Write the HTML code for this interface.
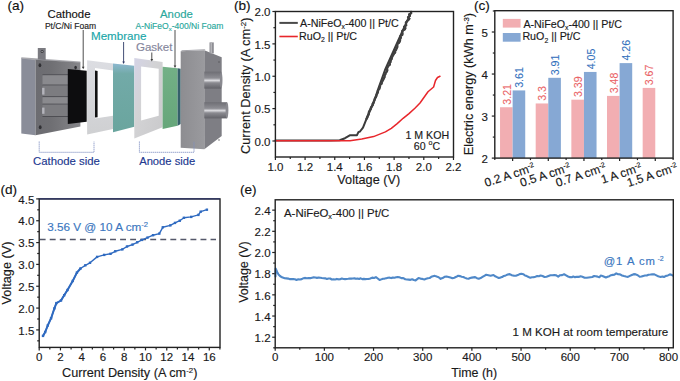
<!DOCTYPE html>
<html><head><meta charset="utf-8"><style>
html,body{margin:0;padding:0;background:#fff;}
svg{display:block;font-family:"Liberation Sans", sans-serif;}
</style></head><body>
<svg width="680" height="381" viewBox="0 0 680 381">
<defs>
<linearGradient id="lp" x1="0" y1="0" x2="1" y2="0"><stop offset="0" stop-color="#6c6c71"/><stop offset="0.35" stop-color="#6f6f73"/><stop offset="1" stop-color="#86868a"/></linearGradient>
<linearGradient id="rpf" x1="0" y1="0" x2="1" y2="0"><stop offset="0" stop-color="#8d8d91"/><stop offset="1" stop-color="#9a9a9e"/></linearGradient>
<linearGradient id="cyl" x1="0" y1="0" x2="0" y2="1"><stop offset="0" stop-color="#6e6e74"/><stop offset="0.38" stop-color="#8e8e94"/><stop offset="0.52" stop-color="#dcdce0"/><stop offset="0.66" stop-color="#8a8a90"/><stop offset="1" stop-color="#626268"/></linearGradient>
<linearGradient id="mem" x1="0" y1="0" x2="0" y2="1"><stop offset="0" stop-color="#8db8d0"/><stop offset="0.15" stop-color="#72aaa8"/><stop offset="1" stop-color="#6aa59e"/></linearGradient>
<linearGradient id="grn" x1="0" y1="0" x2="0" y2="1"><stop offset="0" stop-color="#73b086"/><stop offset="1" stop-color="#66a67a"/></linearGradient>
<linearGradient id="fr1" x1="0" y1="0" x2="0" y2="1"><stop offset="0" stop-color="#dcdde2"/><stop offset="1" stop-color="#cfd0d2"/></linearGradient>
<linearGradient id="fr2" x1="0" y1="0" x2="1" y2="1"><stop offset="0" stop-color="#d4d3e6"/><stop offset="0.4" stop-color="#d3d3d5"/><stop offset="1" stop-color="#c9c9cb"/></linearGradient>
</defs>
<rect width="680" height="381" fill="#fff"/>
<polygon points="21.30,58.10 35.50,59.50 35.50,135.20 21.30,133.60" fill="#8a8d99" /><polygon points="21.30,57.20 80.40,61.50 80.40,63.00 35.50,60.20 21.30,58.60" fill="#a9a9ae" /><polygon points="37.80,48.00 45.70,48.00 45.70,60.00 37.80,59.50" fill="#7a7a80" /><circle cx="42.1" cy="51.6" r="1.5" fill="#3a3a3e"/><circle cx="42.1" cy="51.6" r="0.7" fill="#b8b8bc"/><polygon points="35.50,59.80 80.40,62.50 80.40,126.50 35.50,135.20" fill="url(#lp)" /><ellipse cx="39.9" cy="65.2" rx="1.4" ry="2" fill="#303034"/><ellipse cx="75.6" cy="67.6" rx="1.3" ry="1.8" fill="#303034"/><ellipse cx="40.2" cy="127.3" rx="1.4" ry="2" fill="#303034"/><rect x="42.5" y="74.3" width="25.5" height="1.0" fill="#4e4e53"/><rect x="42.5" y="75.3" width="25.5" height="9.3" fill="#8a8a8e"/><rect x="42.5" y="84.6" width="25.5" height="1.0" fill="#55555a"/><rect x="42.5" y="85.6" width="25.5" height="10.6" fill="#7c7c80"/><rect x="42.5" y="96.2" width="25.5" height="1.0" fill="#4e4e53"/><rect x="42.5" y="97.2" width="25.5" height="6.5" fill="#8a8a8e"/><rect x="42.5" y="103.7" width="25.5" height="1.0" fill="#55555a"/><rect x="42.5" y="104.7" width="25.5" height="11.3" fill="#7c7c80"/><rect x="42.5" y="116.0" width="25.5" height="1.0" fill="#4e4e53"/><rect x="42.1" y="87.8" width="2.4" height="6.8" fill="#b4b4bb"/><rect x="42.1" y="107.6" width="2.4" height="6.2" fill="#b4b4bb"/><polygon points="67.80,69.10 86.70,70.70 86.70,121.80 67.80,124.10" fill="#0d0d0f" /><polygon points="87.10,60.20 113.00,63.40 113.00,129.10 87.10,134.60" fill="url(#fr1)" /><polygon points="95.00,68.10 113.00,70.50 113.00,115.70 95.00,118.60" fill="#ffffff" /><polygon points="95.00,70.60 97.60,71.00 97.60,117.30 95.00,117.60" fill="#111" /><polygon points="113.00,63.40 134.30,65.70 134.30,126.80 113.00,132.30" fill="url(#mem)" /><polygon points="134.30,57.90 162.60,62.00 162.60,127.30 134.30,138.60" fill="url(#fr2)" /><polygon points="141.10,66.50 158.70,68.80 158.70,115.70 141.10,120.50" fill="#ffffff" /><polygon points="162.60,66.80 177.60,68.30 177.60,125.70 162.60,128.90" fill="url(#grn)" /><polygon points="177.60,68.30 180.70,68.80 180.70,124.10 177.60,125.70" fill="#35606a" /><polygon points="180.70,51.30 204.30,50.20 204.30,149.30 180.70,147.80" fill="url(#rpf)" /><polygon points="204.30,50.20 221.70,57.30 221.70,136.00 204.30,149.30" fill="#7e7e84" /><polygon points="180.70,51.30 204.30,50.20 205.50,49.20 182.00,50.30" fill="#a0a0a6" /><rect x="209.5" y="42.4" width="4.3" height="11" fill="#8e8e94"/><rect x="210.5" y="42.4" width="1.5" height="11" fill="#b4b4b8"/><rect x="204.3" y="71.6" width="16.9" height="17" fill="url(#cyl)"/><ellipse cx="221.2" cy="80.1" rx="1.3" ry="8.0" fill="#8a8a90"/><rect x="204.3" y="102.2" width="22.7" height="16.2" fill="url(#cyl)"/><ellipse cx="227" cy="110.3" rx="1.4" ry="8.1" fill="#8a8a90"/><circle cx="219" cy="62" r="0.7" fill="#505055"/><circle cx="219" cy="140" r="0.7" fill="#505055"/><line x1="83.2" y1="30" x2="83.2" y2="67.8" stroke="#3a3a3a" stroke-width="0.9"/><polygon points="81.9,66.7 84.5,66.7 83.2,69.3" fill="#3a3a3a"/><line x1="123.6" y1="42" x2="123.6" y2="62.5" stroke="#2e3a66" stroke-width="0.9"/><polygon points="122.3,61.4 124.89999999999999,61.4 123.6,64.0" fill="#2e3a66"/><line x1="151.8" y1="52.5" x2="151.8" y2="60.0" stroke="#3a3a3a" stroke-width="0.9"/><polygon points="150.5,58.9 153.10000000000002,58.9 151.8,61.5" fill="#3a3a3a"/><line x1="175" y1="30" x2="175" y2="66.5" stroke="#3a3a3a" stroke-width="0.9"/><polygon points="173.7,65.4 176.3,65.4 175,68.0" fill="#3a3a3a"/><polyline points="39.2,141.5 39.2,152.3 94,152.3 94,141.5" fill="none" stroke="#7f8fc2" stroke-width="0.9" stroke-dasharray="1.3,0.7"/><polyline points="139.4,141.5 139.4,152.3 194,152.3 194,141.5" fill="none" stroke="#7f8fc2" stroke-width="0.9" stroke-dasharray="1.3,0.7"/>
<line x1="275.40" y1="157.00" x2="275.40" y2="160.00" stroke="#222" stroke-width="1.2" /><line x1="290.24" y1="157.00" x2="290.24" y2="159.00" stroke="#222" stroke-width="1.2" /><line x1="305.08" y1="157.00" x2="305.08" y2="160.00" stroke="#222" stroke-width="1.2" /><line x1="319.92" y1="157.00" x2="319.92" y2="159.00" stroke="#222" stroke-width="1.2" /><line x1="334.76" y1="157.00" x2="334.76" y2="160.00" stroke="#222" stroke-width="1.2" /><line x1="349.60" y1="157.00" x2="349.60" y2="159.00" stroke="#222" stroke-width="1.2" /><line x1="364.44" y1="157.00" x2="364.44" y2="160.00" stroke="#222" stroke-width="1.2" /><line x1="379.28" y1="157.00" x2="379.28" y2="159.00" stroke="#222" stroke-width="1.2" /><line x1="394.12" y1="157.00" x2="394.12" y2="160.00" stroke="#222" stroke-width="1.2" /><line x1="408.96" y1="157.00" x2="408.96" y2="159.00" stroke="#222" stroke-width="1.2" /><line x1="423.80" y1="157.00" x2="423.80" y2="160.00" stroke="#222" stroke-width="1.2" /><line x1="438.64" y1="157.00" x2="438.64" y2="159.00" stroke="#222" stroke-width="1.2" /><line x1="453.48" y1="157.00" x2="453.48" y2="160.00" stroke="#222" stroke-width="1.2" /><line x1="275.40" y1="141.00" x2="272.40" y2="141.00" stroke="#222" stroke-width="1.2" /><line x1="275.40" y1="124.81" x2="273.40" y2="124.81" stroke="#222" stroke-width="1.2" /><line x1="275.40" y1="108.62" x2="272.40" y2="108.62" stroke="#222" stroke-width="1.2" /><line x1="275.40" y1="92.44" x2="273.40" y2="92.44" stroke="#222" stroke-width="1.2" /><line x1="275.40" y1="76.25" x2="272.40" y2="76.25" stroke="#222" stroke-width="1.2" /><line x1="275.40" y1="60.06" x2="273.40" y2="60.06" stroke="#222" stroke-width="1.2" /><line x1="275.40" y1="43.88" x2="272.40" y2="43.88" stroke="#222" stroke-width="1.2" /><line x1="275.40" y1="27.69" x2="273.40" y2="27.69" stroke="#222" stroke-width="1.2" /><line x1="275.40" y1="11.50" x2="272.40" y2="11.50" stroke="#222" stroke-width="1.2" /><text x="275.40" y="170.60" font-size="11.5" fill="#1a1a1a" stroke="#1a1a1a" stroke-width="0.15" text-anchor="middle" >1.0</text><text x="305.08" y="170.60" font-size="11.5" fill="#1a1a1a" stroke="#1a1a1a" stroke-width="0.15" text-anchor="middle" >1.2</text><text x="334.76" y="170.60" font-size="11.5" fill="#1a1a1a" stroke="#1a1a1a" stroke-width="0.15" text-anchor="middle" >1.4</text><text x="364.44" y="170.60" font-size="11.5" fill="#1a1a1a" stroke="#1a1a1a" stroke-width="0.15" text-anchor="middle" >1.6</text><text x="394.12" y="170.60" font-size="11.5" fill="#1a1a1a" stroke="#1a1a1a" stroke-width="0.15" text-anchor="middle" >1.8</text><text x="423.80" y="170.60" font-size="11.5" fill="#1a1a1a" stroke="#1a1a1a" stroke-width="0.15" text-anchor="middle" >2.0</text><text x="453.48" y="170.60" font-size="11.5" fill="#1a1a1a" stroke="#1a1a1a" stroke-width="0.15" text-anchor="middle" >2.2</text><text x="270.50" y="145.70" font-size="11.5" fill="#1a1a1a" stroke="#1a1a1a" stroke-width="0.15" text-anchor="end" >0.0</text><text x="270.50" y="113.33" font-size="11.5" fill="#1a1a1a" stroke="#1a1a1a" stroke-width="0.15" text-anchor="end" >0.5</text><text x="270.50" y="80.95" font-size="11.5" fill="#1a1a1a" stroke="#1a1a1a" stroke-width="0.15" text-anchor="end" >1.0</text><text x="270.50" y="48.58" font-size="11.5" fill="#1a1a1a" stroke="#1a1a1a" stroke-width="0.15" text-anchor="end" >1.5</text><text x="270.50" y="16.20" font-size="11.5" fill="#1a1a1a" stroke="#1a1a1a" stroke-width="0.15" text-anchor="end" >2.0</text><polyline points="275.40,140.60 300.00,140.60 330.00,140.50 339.70,140.30 345.00,138.20 350.20,135.20 357.00,135.20 358.40,132.20 360.00,131.50 363.00,127.70 366.50,118.90 370.00,110.60 373.60,103.00 377.80,90.00 385.00,70.00 398.00,41.00 411.30,11.80" fill="none" stroke="#3b3b3b" stroke-width="2.0" stroke-linejoin="round" stroke-linecap="round" /><polyline points="366.36,118.90 367.09,117.54 367.56,116.19 368.26,114.83 368.85,113.48 369.05,112.12 369.57,110.77 370.71,109.41 370.86,108.05 371.41,106.70 372.55,105.34 372.71,103.99 373.58,102.63 373.85,101.28 374.56,99.92 374.70,98.56 375.70,97.21 376.48,95.85 376.73,94.50 377.51,93.14 378.01,91.79 377.96,90.43 379.24,89.07 379.64,87.72 379.89,86.36 380.16,85.01 381.66,83.65 381.78,82.30 382.64,80.94 383.40,79.58 383.77,78.23 384.60,76.87 384.51,75.52 385.60,74.16 385.71,72.81 386.93,71.45 387.43,70.09 386.93,68.74 387.54,67.38 388.21,66.03 389.86,64.67 389.66,63.32 390.51,61.96 390.58,60.61 391.46,59.25 391.84,57.89 392.35,56.54 393.29,55.18 393.86,53.83 394.96,52.47 395.16,51.12 396.15,49.76 396.60,48.40 397.41,47.05 397.43,45.69 397.09,44.34 398.91,42.98 399.68,41.63 400.14,40.27 400.09,38.91 400.93,37.56 400.53,36.20 402.31,34.85 402.37,33.49 402.36,32.14 402.48,30.78 404.65,29.42 405.51,28.07 404.20,26.71 406.26,25.36 406.01,24.00 406.01,22.65 406.88,21.29 408.49,19.93 409.29,18.58 408.01,17.22 409.86,15.87 409.12,14.51 411.24,13.16 410.90,11.80" fill="none" stroke="#404040" stroke-width="2.2" stroke-linejoin="round" stroke-linecap="round" /><polyline points="366.82,118.90 367.67,117.54 367.56,116.19 368.86,114.83 368.62,113.48 368.54,112.12 369.69,110.77 370.14,109.41 370.50,108.05 371.30,106.70 372.68,105.34 372.30,103.99 373.03,102.63 374.29,101.28 374.34,99.92 375.25,98.56 376.17,97.21 376.34,95.85 376.68,94.50 377.53,93.14 378.19,91.79 378.08,90.43 379.32,89.07 379.78,87.72 380.42,86.36 380.17,85.01 381.58,83.65 382.04,82.30 382.32,80.94 383.16,79.58 384.35,78.23 384.63,76.87 384.57,75.52 385.02,74.16 385.61,72.81 387.03,71.45 386.85,70.09 387.06,68.74 387.70,67.38 387.68,66.03 390.01,64.67 389.62,63.32 390.72,61.96 390.41,60.61 391.71,59.25 392.13,57.89 391.78,56.54 392.76,55.18 394.07,53.83 395.51,52.47 394.86,51.12 396.10,49.76 396.71,48.40 397.20,47.05 397.26,45.69 396.86,44.34 398.75,42.98 399.79,41.63 399.90,40.27 399.94,38.91 401.26,37.56 399.97,36.20 402.39,34.85 402.65,33.49 402.14,32.14 402.15,30.78 405.02,29.42 405.19,28.07 403.83,26.71 406.19,25.36 406.24,24.00 405.53,22.65 406.67,21.29 408.29,19.93 409.69,18.58 407.93,17.22 410.29,15.87 408.72,14.51 411.04,13.16 411.08,11.80" fill="none" stroke="#404040" stroke-width="1.6" stroke-linejoin="round" stroke-linecap="round" /><polyline points="275.40,140.80 320.00,140.80 350.00,140.70 361.80,139.00 373.60,136.60 385.40,131.90 391.30,128.30 397.20,123.60 403.10,118.30 409.00,113.60 414.90,108.30 420.00,103.00 428.00,91.80 433.60,87.00 435.50,80.50 437.50,77.50 440.00,76.30" fill="none" stroke="#e8262b" stroke-width="1.5" stroke-linejoin="round" stroke-linecap="round" /><rect x="275.40" y="11.50" width="178.10" height="145.50" fill="none" stroke="#222" stroke-width="1.4"/><line x1="279.40" y1="22.90" x2="297.80" y2="22.90" stroke="#4a4a4a" stroke-width="2.0" /><line x1="279.40" y1="36.50" x2="297.80" y2="36.50" stroke="#e8262b" stroke-width="1.6" /><rect x="500.03" y="107.24" width="12.60" height="50.86" fill="#f2aeb2"/><text transform="translate(510.63,104.64) rotate(-90)" font-size="10.6" fill="#ea6467" stroke="#ea6467" stroke-width="0.1">3.21</text><rect x="512.63" y="90.43" width="12.60" height="67.67" fill="#86a8d4"/><text transform="translate(523.23,87.83) rotate(-90)" font-size="10.6" fill="#3471bd" stroke="#3471bd" stroke-width="0.1">3.61</text><rect x="535.69" y="103.46" width="12.60" height="54.64" fill="#f2aeb2"/><text transform="translate(546.29,100.86) rotate(-90)" font-size="10.6" fill="#ea6467" stroke="#ea6467" stroke-width="0.1">3.3</text><rect x="548.29" y="77.82" width="12.60" height="80.28" fill="#86a8d4"/><text transform="translate(558.89,75.22) rotate(-90)" font-size="10.6" fill="#3471bd" stroke="#3471bd" stroke-width="0.1">3.91</text><rect x="571.35" y="99.68" width="12.60" height="58.42" fill="#f2aeb2"/><text transform="translate(581.95,97.08) rotate(-90)" font-size="10.6" fill="#ea6467" stroke="#ea6467" stroke-width="0.1">3.39</text><rect x="583.95" y="71.94" width="12.60" height="86.16" fill="#86a8d4"/><text transform="translate(594.55,69.34) rotate(-90)" font-size="10.6" fill="#3471bd" stroke="#3471bd" stroke-width="0.1">4.05</text><rect x="607.01" y="95.90" width="12.60" height="62.20" fill="#f2aeb2"/><text transform="translate(617.61,93.30) rotate(-90)" font-size="10.6" fill="#ea6467" stroke="#ea6467" stroke-width="0.1">3.48</text><rect x="619.61" y="63.11" width="12.60" height="94.99" fill="#86a8d4"/><text transform="translate(630.21,60.51) rotate(-90)" font-size="10.6" fill="#3471bd" stroke="#3471bd" stroke-width="0.1">4.26</text><rect x="642.67" y="87.91" width="12.60" height="70.19" fill="#f2aeb2"/><text transform="translate(653.27,85.31) rotate(-90)" font-size="10.6" fill="#ea6467" stroke="#ea6467" stroke-width="0.1">3.67</text><line x1="494.80" y1="158.10" x2="494.80" y2="160.10" stroke="#222" stroke-width="1.2" /><line x1="530.46" y1="158.10" x2="530.46" y2="160.10" stroke="#222" stroke-width="1.2" /><line x1="566.12" y1="158.10" x2="566.12" y2="160.10" stroke="#222" stroke-width="1.2" /><line x1="601.78" y1="158.10" x2="601.78" y2="160.10" stroke="#222" stroke-width="1.2" /><line x1="637.44" y1="158.10" x2="637.44" y2="160.10" stroke="#222" stroke-width="1.2" /><line x1="673.10" y1="158.10" x2="673.10" y2="160.10" stroke="#222" stroke-width="1.2" /><line x1="512.63" y1="158.10" x2="512.63" y2="161.10" stroke="#222" stroke-width="1.2" /><line x1="548.29" y1="158.10" x2="548.29" y2="161.10" stroke="#222" stroke-width="1.2" /><line x1="583.95" y1="158.10" x2="583.95" y2="161.10" stroke="#222" stroke-width="1.2" /><line x1="619.61" y1="158.10" x2="619.61" y2="161.10" stroke="#222" stroke-width="1.2" /><line x1="655.27" y1="158.10" x2="655.27" y2="161.10" stroke="#222" stroke-width="1.2" /><line x1="494.80" y1="158.10" x2="491.80" y2="158.10" stroke="#222" stroke-width="1.2" /><line x1="494.80" y1="137.08" x2="492.80" y2="137.08" stroke="#222" stroke-width="1.2" /><line x1="494.80" y1="116.07" x2="491.80" y2="116.07" stroke="#222" stroke-width="1.2" /><line x1="494.80" y1="95.05" x2="492.80" y2="95.05" stroke="#222" stroke-width="1.2" /><line x1="494.80" y1="74.04" x2="491.80" y2="74.04" stroke="#222" stroke-width="1.2" /><line x1="494.80" y1="53.02" x2="492.80" y2="53.02" stroke="#222" stroke-width="1.2" /><line x1="494.80" y1="32.01" x2="491.80" y2="32.01" stroke="#222" stroke-width="1.2" /><line x1="494.80" y1="10.99" x2="492.80" y2="10.99" stroke="#222" stroke-width="1.2" /><text x="488.00" y="162.90" font-size="11.5" fill="#1a1a1a" stroke="#1a1a1a" stroke-width="0.15" text-anchor="end" >2</text><text x="488.00" y="120.87" font-size="11.5" fill="#1a1a1a" stroke="#1a1a1a" stroke-width="0.15" text-anchor="end" >3</text><text x="488.00" y="78.84" font-size="11.5" fill="#1a1a1a" stroke="#1a1a1a" stroke-width="0.15" text-anchor="end" >4</text><text x="488.00" y="36.81" font-size="11.5" fill="#1a1a1a" stroke="#1a1a1a" stroke-width="0.15" text-anchor="end" >5</text><rect x="494.80" y="10.70" width="178.30" height="147.40" fill="none" stroke="#222" stroke-width="1.4"/><text transform="translate(535.63,170.80) rotate(-18)" font-size="12" fill="#1a1a1a" stroke="#1a1a1a" stroke-width="0.15" text-anchor="end">0.2 A cm<tspan font-size="7" dy="-4.5">-2</tspan></text><text transform="translate(571.29,170.80) rotate(-18)" font-size="12" fill="#1a1a1a" stroke="#1a1a1a" stroke-width="0.15" text-anchor="end">0.5 A cm<tspan font-size="7" dy="-4.5">-2</tspan></text><text transform="translate(606.95,170.80) rotate(-18)" font-size="12" fill="#1a1a1a" stroke="#1a1a1a" stroke-width="0.15" text-anchor="end">0.7 A cm<tspan font-size="7" dy="-4.5">-2</tspan></text><text transform="translate(642.61,170.80) rotate(-18)" font-size="12" fill="#1a1a1a" stroke="#1a1a1a" stroke-width="0.15" text-anchor="end">1 A cm<tspan font-size="7" dy="-4.5">-2</tspan></text><text transform="translate(678.27,170.80) rotate(-18)" font-size="12" fill="#1a1a1a" stroke="#1a1a1a" stroke-width="0.15" text-anchor="end">1.5 A cm<tspan font-size="7" dy="-4.5">-2</tspan></text><rect x="502.8" y="18.9" width="17.8" height="8.7" fill="#f2aeb2"/><rect x="502.8" y="33" width="17.8" height="8.7" fill="#86a8d4"/><line x1="39.20" y1="347.40" x2="39.20" y2="350.40" stroke="#222" stroke-width="1.2" /><line x1="49.83" y1="347.40" x2="49.83" y2="349.40" stroke="#222" stroke-width="1.2" /><line x1="60.46" y1="347.40" x2="60.46" y2="350.40" stroke="#222" stroke-width="1.2" /><line x1="71.09" y1="347.40" x2="71.09" y2="349.40" stroke="#222" stroke-width="1.2" /><line x1="81.72" y1="347.40" x2="81.72" y2="350.40" stroke="#222" stroke-width="1.2" /><line x1="92.35" y1="347.40" x2="92.35" y2="349.40" stroke="#222" stroke-width="1.2" /><line x1="102.98" y1="347.40" x2="102.98" y2="350.40" stroke="#222" stroke-width="1.2" /><line x1="113.61" y1="347.40" x2="113.61" y2="349.40" stroke="#222" stroke-width="1.2" /><line x1="124.24" y1="347.40" x2="124.24" y2="350.40" stroke="#222" stroke-width="1.2" /><line x1="134.87" y1="347.40" x2="134.87" y2="349.40" stroke="#222" stroke-width="1.2" /><line x1="145.50" y1="347.40" x2="145.50" y2="350.40" stroke="#222" stroke-width="1.2" /><line x1="156.13" y1="347.40" x2="156.13" y2="349.40" stroke="#222" stroke-width="1.2" /><line x1="166.76" y1="347.40" x2="166.76" y2="350.40" stroke="#222" stroke-width="1.2" /><line x1="177.39" y1="347.40" x2="177.39" y2="349.40" stroke="#222" stroke-width="1.2" /><line x1="188.02" y1="347.40" x2="188.02" y2="350.40" stroke="#222" stroke-width="1.2" /><line x1="198.65" y1="347.40" x2="198.65" y2="349.40" stroke="#222" stroke-width="1.2" /><line x1="209.28" y1="347.40" x2="209.28" y2="350.40" stroke="#222" stroke-width="1.2" /><line x1="219.91" y1="347.40" x2="219.91" y2="349.40" stroke="#222" stroke-width="1.2" /><line x1="39.20" y1="340.83" x2="37.20" y2="340.83" stroke="#222" stroke-width="1.2" /><line x1="39.20" y1="329.91" x2="36.20" y2="329.91" stroke="#222" stroke-width="1.2" /><line x1="39.20" y1="318.99" x2="37.20" y2="318.99" stroke="#222" stroke-width="1.2" /><line x1="39.20" y1="308.08" x2="36.20" y2="308.08" stroke="#222" stroke-width="1.2" /><line x1="39.20" y1="297.16" x2="37.20" y2="297.16" stroke="#222" stroke-width="1.2" /><line x1="39.20" y1="286.24" x2="36.20" y2="286.24" stroke="#222" stroke-width="1.2" /><line x1="39.20" y1="275.32" x2="37.20" y2="275.32" stroke="#222" stroke-width="1.2" /><line x1="39.20" y1="264.40" x2="36.20" y2="264.40" stroke="#222" stroke-width="1.2" /><line x1="39.20" y1="253.49" x2="37.20" y2="253.49" stroke="#222" stroke-width="1.2" /><line x1="39.20" y1="242.57" x2="36.20" y2="242.57" stroke="#222" stroke-width="1.2" /><line x1="39.20" y1="231.65" x2="37.20" y2="231.65" stroke="#222" stroke-width="1.2" /><line x1="39.20" y1="220.74" x2="36.20" y2="220.74" stroke="#222" stroke-width="1.2" /><line x1="39.20" y1="209.82" x2="37.20" y2="209.82" stroke="#222" stroke-width="1.2" /><line x1="39.20" y1="198.90" x2="36.20" y2="198.90" stroke="#222" stroke-width="1.2" /><text x="39.20" y="361.00" font-size="11.5" fill="#1a1a1a" stroke="#1a1a1a" stroke-width="0.15" text-anchor="middle" >0</text><text x="60.46" y="361.00" font-size="11.5" fill="#1a1a1a" stroke="#1a1a1a" stroke-width="0.15" text-anchor="middle" >2</text><text x="81.72" y="361.00" font-size="11.5" fill="#1a1a1a" stroke="#1a1a1a" stroke-width="0.15" text-anchor="middle" >4</text><text x="102.98" y="361.00" font-size="11.5" fill="#1a1a1a" stroke="#1a1a1a" stroke-width="0.15" text-anchor="middle" >6</text><text x="124.24" y="361.00" font-size="11.5" fill="#1a1a1a" stroke="#1a1a1a" stroke-width="0.15" text-anchor="middle" >8</text><text x="145.50" y="361.00" font-size="11.5" fill="#1a1a1a" stroke="#1a1a1a" stroke-width="0.15" text-anchor="middle" >10</text><text x="166.76" y="361.00" font-size="11.5" fill="#1a1a1a" stroke="#1a1a1a" stroke-width="0.15" text-anchor="middle" >12</text><text x="188.02" y="361.00" font-size="11.5" fill="#1a1a1a" stroke="#1a1a1a" stroke-width="0.15" text-anchor="middle" >14</text><text x="209.28" y="361.00" font-size="11.5" fill="#1a1a1a" stroke="#1a1a1a" stroke-width="0.15" text-anchor="middle" >16</text><text x="34.30" y="334.61" font-size="11.5" fill="#1a1a1a" stroke="#1a1a1a" stroke-width="0.15" text-anchor="end" >1.5</text><text x="34.30" y="312.78" font-size="11.5" fill="#1a1a1a" stroke="#1a1a1a" stroke-width="0.15" text-anchor="end" >2.0</text><text x="34.30" y="290.94" font-size="11.5" fill="#1a1a1a" stroke="#1a1a1a" stroke-width="0.15" text-anchor="end" >2.5</text><text x="34.30" y="269.10" font-size="11.5" fill="#1a1a1a" stroke="#1a1a1a" stroke-width="0.15" text-anchor="end" >3.0</text><text x="34.30" y="247.27" font-size="11.5" fill="#1a1a1a" stroke="#1a1a1a" stroke-width="0.15" text-anchor="end" >3.5</text><text x="34.30" y="225.44" font-size="11.5" fill="#1a1a1a" stroke="#1a1a1a" stroke-width="0.15" text-anchor="end" >4.0</text><text x="34.30" y="203.60" font-size="11.5" fill="#1a1a1a" stroke="#1a1a1a" stroke-width="0.15" text-anchor="end" >4.5</text><line x1="39.70" y1="239.50" x2="216.00" y2="239.50" stroke="#55586a" stroke-width="1.3" stroke-dasharray="5.9,4.15"/><polyline points="43.00,335.90 45.20,332.00 47.80,325.40 51.10,318.20 54.40,308.40 56.40,303.10 61.00,300.50 64.20,295.20 67.50,290.00 72.70,281.00 76.90,272.60 80.50,268.50 85.30,265.30 90.00,262.80 97.10,256.90 104.20,254.90 110.50,253.80 115.20,251.30 122.30,249.40 127.00,246.50 132.50,244.60 137.20,242.30 142.00,239.90 147.50,237.60 153.00,235.20 159.30,233.60 162.80,227.30 170.30,225.40 175.00,222.90 179.80,220.70 183.90,217.80 191.20,216.90 198.40,214.90 200.70,211.70 206.90,209.70" fill="none" stroke="#2f6ac0" stroke-width="1.4" stroke-linejoin="round" stroke-linecap="round" /><polyline points="43.00,335.90 45.20,332.00 47.80,325.40 51.10,318.20 54.40,308.40 56.40,303.10 61.00,300.50 64.20,295.20 67.50,290.00 72.70,281.00 76.90,272.60 80.50,268.50" fill="none" stroke="#2f6ac0" stroke-width="2.0" stroke-linejoin="round" stroke-linecap="round" /><rect x="41.80" y="334.70" width="2.4" height="2.4" fill="#2f6ac0"/><rect x="44.00" y="330.80" width="2.4" height="2.4" fill="#2f6ac0"/><rect x="46.60" y="324.20" width="2.4" height="2.4" fill="#2f6ac0"/><rect x="49.90" y="317.00" width="2.4" height="2.4" fill="#2f6ac0"/><rect x="53.20" y="307.20" width="2.4" height="2.4" fill="#2f6ac0"/><rect x="55.20" y="301.90" width="2.4" height="2.4" fill="#2f6ac0"/><rect x="59.80" y="299.30" width="2.4" height="2.4" fill="#2f6ac0"/><rect x="63.00" y="294.00" width="2.4" height="2.4" fill="#2f6ac0"/><rect x="66.30" y="288.80" width="2.4" height="2.4" fill="#2f6ac0"/><rect x="71.50" y="279.80" width="2.4" height="2.4" fill="#2f6ac0"/><rect x="75.70" y="271.40" width="2.4" height="2.4" fill="#2f6ac0"/><rect x="79.30" y="267.30" width="2.4" height="2.4" fill="#2f6ac0"/><rect x="84.10" y="264.10" width="2.4" height="2.4" fill="#2f6ac0"/><rect x="88.80" y="261.60" width="2.4" height="2.4" fill="#2f6ac0"/><rect x="95.90" y="255.70" width="2.4" height="2.4" fill="#2f6ac0"/><rect x="103.00" y="253.70" width="2.4" height="2.4" fill="#2f6ac0"/><rect x="109.30" y="252.60" width="2.4" height="2.4" fill="#2f6ac0"/><rect x="114.00" y="250.10" width="2.4" height="2.4" fill="#2f6ac0"/><rect x="121.10" y="248.20" width="2.4" height="2.4" fill="#2f6ac0"/><rect x="125.80" y="245.30" width="2.4" height="2.4" fill="#2f6ac0"/><rect x="131.30" y="243.40" width="2.4" height="2.4" fill="#2f6ac0"/><rect x="136.00" y="241.10" width="2.4" height="2.4" fill="#2f6ac0"/><rect x="140.80" y="238.70" width="2.4" height="2.4" fill="#2f6ac0"/><rect x="146.30" y="236.40" width="2.4" height="2.4" fill="#2f6ac0"/><rect x="151.80" y="234.00" width="2.4" height="2.4" fill="#2f6ac0"/><rect x="158.10" y="232.40" width="2.4" height="2.4" fill="#2f6ac0"/><rect x="161.60" y="226.10" width="2.4" height="2.4" fill="#2f6ac0"/><rect x="169.10" y="224.20" width="2.4" height="2.4" fill="#2f6ac0"/><rect x="173.80" y="221.70" width="2.4" height="2.4" fill="#2f6ac0"/><rect x="178.60" y="219.50" width="2.4" height="2.4" fill="#2f6ac0"/><rect x="182.70" y="216.60" width="2.4" height="2.4" fill="#2f6ac0"/><rect x="190.00" y="215.70" width="2.4" height="2.4" fill="#2f6ac0"/><rect x="197.20" y="213.70" width="2.4" height="2.4" fill="#2f6ac0"/><rect x="199.50" y="210.50" width="2.4" height="2.4" fill="#2f6ac0"/><rect x="205.70" y="208.50" width="2.4" height="2.4" fill="#2f6ac0"/><rect x="39.20" y="198.90" width="180.80" height="148.50" fill="none" stroke="#222" stroke-width="1.4"/><line x1="39.20" y1="198.90" x2="220.00" y2="198.90" stroke="#2c3468" stroke-width="1.4" /><line x1="275.20" y1="347.80" x2="275.20" y2="350.80" stroke="#222" stroke-width="1.2" /><line x1="299.78" y1="347.80" x2="299.78" y2="349.80" stroke="#222" stroke-width="1.2" /><line x1="324.37" y1="347.80" x2="324.37" y2="350.80" stroke="#222" stroke-width="1.2" /><line x1="348.95" y1="347.80" x2="348.95" y2="349.80" stroke="#222" stroke-width="1.2" /><line x1="373.54" y1="347.80" x2="373.54" y2="350.80" stroke="#222" stroke-width="1.2" /><line x1="398.12" y1="347.80" x2="398.12" y2="349.80" stroke="#222" stroke-width="1.2" /><line x1="422.71" y1="347.80" x2="422.71" y2="350.80" stroke="#222" stroke-width="1.2" /><line x1="447.29" y1="347.80" x2="447.29" y2="349.80" stroke="#222" stroke-width="1.2" /><line x1="471.88" y1="347.80" x2="471.88" y2="350.80" stroke="#222" stroke-width="1.2" /><line x1="496.47" y1="347.80" x2="496.47" y2="349.80" stroke="#222" stroke-width="1.2" /><line x1="521.05" y1="347.80" x2="521.05" y2="350.80" stroke="#222" stroke-width="1.2" /><line x1="545.63" y1="347.80" x2="545.63" y2="349.80" stroke="#222" stroke-width="1.2" /><line x1="570.22" y1="347.80" x2="570.22" y2="350.80" stroke="#222" stroke-width="1.2" /><line x1="594.81" y1="347.80" x2="594.81" y2="349.80" stroke="#222" stroke-width="1.2" /><line x1="619.39" y1="347.80" x2="619.39" y2="350.80" stroke="#222" stroke-width="1.2" /><line x1="643.98" y1="347.80" x2="643.98" y2="349.80" stroke="#222" stroke-width="1.2" /><line x1="668.56" y1="347.80" x2="668.56" y2="350.80" stroke="#222" stroke-width="1.2" /><line x1="275.20" y1="347.80" x2="273.20" y2="347.80" stroke="#222" stroke-width="1.2" /><line x1="275.20" y1="337.21" x2="272.20" y2="337.21" stroke="#222" stroke-width="1.2" /><line x1="275.20" y1="326.62" x2="273.20" y2="326.62" stroke="#222" stroke-width="1.2" /><line x1="275.20" y1="316.03" x2="272.20" y2="316.03" stroke="#222" stroke-width="1.2" /><line x1="275.20" y1="305.44" x2="273.20" y2="305.44" stroke="#222" stroke-width="1.2" /><line x1="275.20" y1="294.85" x2="272.20" y2="294.85" stroke="#222" stroke-width="1.2" /><line x1="275.20" y1="284.26" x2="273.20" y2="284.26" stroke="#222" stroke-width="1.2" /><line x1="275.20" y1="273.67" x2="272.20" y2="273.67" stroke="#222" stroke-width="1.2" /><line x1="275.20" y1="263.08" x2="273.20" y2="263.08" stroke="#222" stroke-width="1.2" /><line x1="275.20" y1="252.49" x2="272.20" y2="252.49" stroke="#222" stroke-width="1.2" /><line x1="275.20" y1="241.90" x2="273.20" y2="241.90" stroke="#222" stroke-width="1.2" /><line x1="275.20" y1="231.31" x2="272.20" y2="231.31" stroke="#222" stroke-width="1.2" /><line x1="275.20" y1="220.72" x2="273.20" y2="220.72" stroke="#222" stroke-width="1.2" /><line x1="275.20" y1="210.13" x2="272.20" y2="210.13" stroke="#222" stroke-width="1.2" /><text x="275.20" y="361.00" font-size="11.5" fill="#1a1a1a" stroke="#1a1a1a" stroke-width="0.15" text-anchor="middle" >0</text><text x="324.37" y="361.00" font-size="11.5" fill="#1a1a1a" stroke="#1a1a1a" stroke-width="0.15" text-anchor="middle" >100</text><text x="373.54" y="361.00" font-size="11.5" fill="#1a1a1a" stroke="#1a1a1a" stroke-width="0.15" text-anchor="middle" >200</text><text x="422.71" y="361.00" font-size="11.5" fill="#1a1a1a" stroke="#1a1a1a" stroke-width="0.15" text-anchor="middle" >300</text><text x="471.88" y="361.00" font-size="11.5" fill="#1a1a1a" stroke="#1a1a1a" stroke-width="0.15" text-anchor="middle" >400</text><text x="521.05" y="361.00" font-size="11.5" fill="#1a1a1a" stroke="#1a1a1a" stroke-width="0.15" text-anchor="middle" >500</text><text x="570.22" y="361.00" font-size="11.5" fill="#1a1a1a" stroke="#1a1a1a" stroke-width="0.15" text-anchor="middle" >600</text><text x="619.39" y="361.00" font-size="11.5" fill="#1a1a1a" stroke="#1a1a1a" stroke-width="0.15" text-anchor="middle" >700</text><text x="668.56" y="361.00" font-size="11.5" fill="#1a1a1a" stroke="#1a1a1a" stroke-width="0.15" text-anchor="middle" >800</text><text x="270.60" y="341.91" font-size="11.5" fill="#1a1a1a" stroke="#1a1a1a" stroke-width="0.15" text-anchor="end" >1.2</text><text x="270.60" y="320.73" font-size="11.5" fill="#1a1a1a" stroke="#1a1a1a" stroke-width="0.15" text-anchor="end" >1.4</text><text x="270.60" y="299.55" font-size="11.5" fill="#1a1a1a" stroke="#1a1a1a" stroke-width="0.15" text-anchor="end" >1.6</text><text x="270.60" y="278.37" font-size="11.5" fill="#1a1a1a" stroke="#1a1a1a" stroke-width="0.15" text-anchor="end" >1.8</text><text x="270.60" y="257.19" font-size="11.5" fill="#1a1a1a" stroke="#1a1a1a" stroke-width="0.15" text-anchor="end" >2.0</text><text x="270.60" y="236.01" font-size="11.5" fill="#1a1a1a" stroke="#1a1a1a" stroke-width="0.15" text-anchor="end" >2.2</text><text x="270.60" y="214.83" font-size="11.5" fill="#1a1a1a" stroke="#1a1a1a" stroke-width="0.15" text-anchor="end" >2.4</text><polyline points="275.50,276.50 275.60,268.50 276.50,270.50 277.50,272.80 278.50,274.50 280.00,276.00 282.00,277.30 284.70,278.20 286.47,278.40 288.23,278.60 290.00,279.15 291.62,279.03 293.25,279.10 294.88,279.28 296.50,279.93 298.26,279.26 300.02,279.46 301.78,279.12 303.54,278.18 305.30,277.90 306.97,278.31 308.64,278.08 310.31,278.16 311.99,277.68 313.66,277.41 315.33,277.48 317.00,277.86 318.64,277.56 320.29,277.80 321.93,278.03 323.58,278.19 325.22,278.35 326.87,278.98 328.51,278.46 330.16,278.49 331.80,279.50 333.47,279.40 335.14,279.45 336.81,278.91 338.49,279.33 340.16,279.27 341.83,278.59 343.50,279.02 345.06,279.10 346.62,278.93 348.19,278.80 349.75,278.59 351.31,278.63 352.88,278.52 354.44,278.37 356.00,278.83 357.56,278.55 359.12,279.02 360.69,278.32 362.25,279.09 363.81,278.89 365.38,279.09 366.94,279.06 368.50,279.06 370.35,278.44 372.20,277.61 374.05,277.95 375.90,277.10 377.75,278.47 379.60,280.05 381.30,279.36 383.00,278.69 384.70,278.60 386.33,278.19 387.97,277.83 389.60,277.64 391.23,278.08 392.87,277.62 394.50,277.79 396.13,277.29 397.77,277.04 399.40,277.23 401.37,278.09 403.33,278.10 405.30,279.26 407.02,279.56 408.73,279.64 410.45,279.84 412.17,279.29 413.88,280.03 415.60,280.43 418.50,278.09 420.47,278.59 422.43,278.89 424.40,279.42 426.12,278.80 427.83,278.31 429.55,278.05 431.27,276.82 432.98,276.33 434.70,275.86 436.67,276.60 438.63,277.28 440.60,278.83 442.57,278.09 444.53,276.76 446.50,276.50 448.47,276.97 450.43,277.60 452.40,278.27 454.33,277.70 456.27,276.81 458.20,275.77 459.92,276.11 461.63,276.71 463.35,277.01 465.07,277.88 466.78,278.51 468.50,278.69 470.15,277.97 471.80,277.61 473.45,277.34 475.10,277.09 476.95,278.15 478.80,278.69 480.65,278.10 482.50,276.96 484.35,275.81 486.20,274.79 488.40,275.25 490.60,275.78 493.50,275.03 495.23,276.31 496.97,277.13 498.70,277.97 500.40,277.60 502.10,277.11 503.80,275.91 505.77,275.40 507.73,274.57 509.70,274.14 511.90,275.24 514.10,275.79 515.95,275.73 517.80,275.11 519.65,274.11 521.50,273.77 523.26,274.18 525.02,275.52 526.78,276.11 528.54,277.03 530.30,277.66 532.02,277.30 533.73,277.11 535.45,276.71 537.17,276.04 538.88,276.23 540.60,275.45 542.57,275.98 544.53,276.95 546.50,276.69 548.47,276.00 550.43,275.27 552.40,275.24 554.33,275.08 556.27,275.40 558.20,276.61 560.17,275.23 562.13,275.14 564.10,274.26 566.07,275.40 568.03,276.51 570.00,277.17 571.67,277.30 573.33,276.55 575.00,277.14 576.85,276.81 578.70,276.89 580.55,276.25 582.40,276.72 584.60,277.74 586.80,277.81 588.62,277.54 590.45,277.26 592.27,277.00 594.10,275.97 595.83,276.25 597.57,276.64 599.30,277.30 600.70,275.53 602.43,275.97 604.17,276.71 605.90,277.51 607.62,276.78 609.33,276.16 611.05,275.17 612.77,274.87 614.48,274.61 616.20,273.42 618.13,274.32 620.07,274.39 622.00,275.47 623.97,276.06 625.93,276.52 627.90,276.92 629.87,275.85 631.83,274.96 633.80,274.16 635.77,274.38 637.73,275.24 639.70,276.72 641.46,276.57 643.22,275.92 644.98,275.55 646.74,275.50 648.50,274.72 650.47,274.56 652.43,274.26 654.40,274.38 655.90,275.08 657.40,275.96 659.05,276.52 660.70,276.91 662.35,276.47 664.00,276.98 665.97,275.89 667.93,275.45 669.90,274.38 671.45,274.79 673.00,275.70" fill="none" stroke="#4f88c8" stroke-width="2.1" stroke-linejoin="round" stroke-linecap="round" /><rect x="275.20" y="199.80" width="398.10" height="148.00" fill="none" stroke="#222" stroke-width="1.4"/>
<text id="a_lbl" x="7.44" y="10.37" font-size="13.60" fill="#111" stroke="#111" stroke-width="0.15" text-anchor="start">(a)</text><text id="a_cath" x="47.57" y="17.72" font-size="11.35" fill="#111" stroke="#111" stroke-width="0.15" text-anchor="start">Cathode</text><text id="a_ptc" x="44.89" y="28.64" font-size="8.52" fill="#222" stroke="#222" stroke-width="0.15" text-anchor="start">Pt/C/Ni Foam</text><text id="a_mem" x="90.96" y="40.39" font-size="11.63" fill="#19a6a8" stroke="#19a6a8" stroke-width="0.15" text-anchor="start">Membrane</text><text id="a_anode" x="160.00" y="18.12" font-size="11.38" fill="#2aa89c" stroke="#2aa89c" stroke-width="0.15" text-anchor="start">Anode</text><text id="a_anf" x="135.48" y="29.16" font-size="8.54" fill="#2aa89c" stroke="#2aa89c" stroke-width="0.15" text-anchor="start">A-NiFeO<tspan font-size="0.7em" dy="1.5">x</tspan><tspan dy="-1.5">-400/Ni Foam</tspan></text><text id="a_gask" x="135.93" y="51.29" font-size="11.55" fill="#85869c" stroke="#85869c" stroke-width="0.15" text-anchor="start">Gasket</text><text id="a_cs" x="32.99" y="164.96" font-size="11.37" fill="#22388f" stroke="#22388f" stroke-width="0.15" text-anchor="start">Cathode side</text><text id="a_as" x="139.17" y="164.85" font-size="11.21" fill="#22388f" stroke="#22388f" stroke-width="0.15" text-anchor="start">Anode side</text><text id="b_lbl" x="233.88" y="9.49" font-size="13.60" fill="#111" stroke="#111" stroke-width="0.15" text-anchor="start">(b)</text><text id="b_leg1" x="300.00" y="26.95" font-size="10.70" fill="#1a1a1a" stroke="#1a1a1a" stroke-width="0.15" text-anchor="start">A-NiFeO<tspan font-size="0.64em" dy="2.5">x</tspan><tspan dy="-2.5">-400 || Pt/C</tspan></text><text id="b_leg2" x="299.00" y="39.60" font-size="10.70" fill="#1a1a1a" stroke="#1a1a1a" stroke-width="0.15" text-anchor="start">RuO<tspan font-size="0.64em" dy="2.5">2</tspan><tspan dy="-2.5"> || Pt/C</tspan></text><text id="b_koh" x="427.26" y="138.56" font-size="10.64" fill="#1a1a1a" stroke="#1a1a1a" stroke-width="0.15" text-anchor="middle">1 M KOH</text><text id="b_60" x="427.01" y="149.82" font-size="10.58" fill="#1a1a1a" stroke="#1a1a1a" stroke-width="0.15" text-anchor="middle">60 <tspan font-size="0.67em" dy="-4.5">o</tspan><tspan dy="4.5">C</tspan></text><text id="b_xt" x="368.75" y="183.84" font-size="12.70" fill="#1a1a1a" stroke="#1a1a1a" stroke-width="0.15" text-anchor="middle">Voltage (V)</text><text id="b_yt" transform="translate(250.05,85.75) rotate(-90)" font-size="12.80" fill="#1a1a1a" stroke="#1a1a1a" stroke-width="0.15" text-anchor="middle">Current Density (A cm<tspan font-size="0.62em" dy="-4.5">-2</tspan><tspan dy="4.5">)</tspan></text><text id="c_lbl" x="473.99" y="10.40" font-size="13.60" fill="#111" stroke="#111" stroke-width="0.15" text-anchor="start">(c)</text><text id="c_leg1" x="523.40" y="27.50" font-size="10.70" fill="#1a1a1a" stroke="#1a1a1a" stroke-width="0.15" text-anchor="start">A-NiFeO<tspan font-size="0.64em" dy="2.5">x</tspan><tspan dy="-2.5">-400 || Pt/C</tspan></text><text id="c_leg2" x="522.40" y="40.40" font-size="10.70" fill="#1a1a1a" stroke="#1a1a1a" stroke-width="0.15" text-anchor="start">RuO<tspan font-size="0.64em" dy="2.5">2</tspan><tspan dy="-2.5"> || Pt/C</tspan></text><text id="c_yt" transform="translate(473.24,84.14) rotate(-90)" font-size="12.70" fill="#1a1a1a" stroke="#1a1a1a" stroke-width="0.15" text-anchor="middle">Electric energy (kWh m<tspan font-size="0.62em" dy="-4.5">-3</tspan><tspan dy="4.5">)</tspan></text><text id="d_lbl" x="0.50" y="193.51" font-size="13.60" fill="#111" stroke="#111" stroke-width="0.15" text-anchor="start">(d)</text><text id="d_ann" x="47.18" y="231.49" font-size="11.74" fill="#3a76c0" stroke="#3a76c0" stroke-width="0.15" text-anchor="start">3.56 V @ 10 A cm<tspan font-size="0.65em" dy="-4.5">-2</tspan></text><text id="d_xt" x="129.75" y="377.12" font-size="12.70" fill="#1a1a1a" stroke="#1a1a1a" stroke-width="0.15" text-anchor="middle">Current Density (A cm<tspan font-size="0.62em" dy="-4.5">-2</tspan><tspan dy="4.5">)</tspan></text><text id="d_yt" transform="translate(10.92,273.00) rotate(-90)" font-size="12.70" fill="#1a1a1a" stroke="#1a1a1a" stroke-width="0.15" text-anchor="middle">Voltage (V)</text><text id="e_lbl" x="239.89" y="194.12" font-size="13.60" fill="#111" stroke="#111" stroke-width="0.15" text-anchor="start">(e)</text><text id="e_leg" x="283.99" y="216.57" font-size="11.41" fill="#1a1a1a" stroke="#1a1a1a" stroke-width="0.15" text-anchor="start">A-NiFeO<tspan font-size="0.64em" dy="2.5">x</tspan><tspan dy="-2.5">-400 || Pt/C</tspan></text><text id="e_at" x="603.67" y="265.10" font-size="11.30" fill="#3a76c0" stroke="#3a76c0" stroke-width="0.15" text-anchor="start"><tspan style="letter-spacing:1.0px">@1 A cm</tspan><tspan font-size="0.62em" dx="1.5" dy="-4.5">-2</tspan></text><text id="e_koh" x="512.56" y="336.26" font-size="11.58" fill="#1a1a1a" stroke="#1a1a1a" stroke-width="0.15" text-anchor="start">1 M KOH at room temperature</text><text id="e_xt" x="474.25" y="376.54" font-size="12.45" fill="#1a1a1a" stroke="#1a1a1a" stroke-width="0.15" text-anchor="middle">Time (h)</text><text id="e_yt" transform="translate(247.81,272.00) rotate(-90)" font-size="12.45" fill="#1a1a1a" stroke="#1a1a1a" stroke-width="0.15" text-anchor="middle">Voltage (V)</text>
</svg></body></html>
